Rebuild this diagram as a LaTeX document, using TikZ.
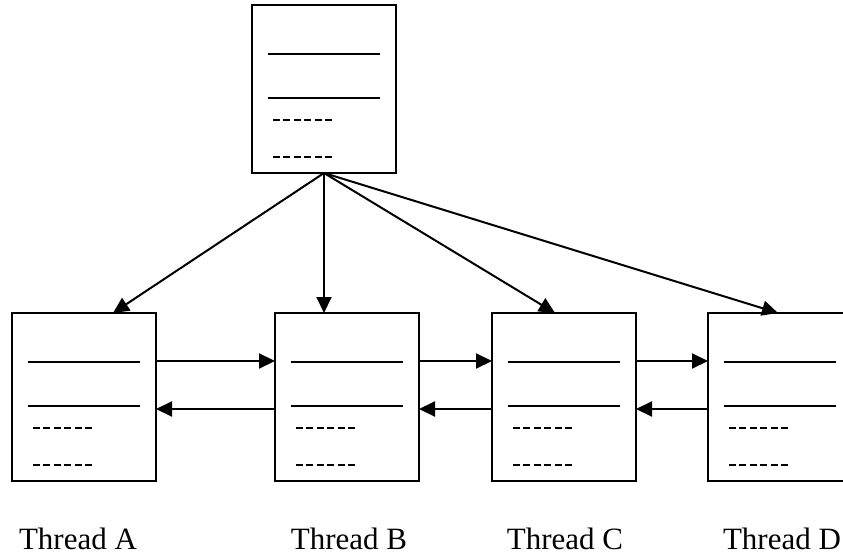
\documentclass[tikz,border=0pt]{standalone}
\usepackage{fontspec}
\setmainfont{Liberation Serif}
\usetikzlibrary{arrows.meta,calc}
\tikzset{
  membox/.style={draw, line width=2pt, rectangle, minimum width=144pt, minimum height=168pt, inner sep=0pt, outer sep=0pt},
  link/.style={line width=2pt, -{Triangle[length=16pt,width=15pt]}},
  thlabel/.style={anchor=base, inner sep=0pt, font=\fontsize{31}{37}\selectfont}
}
% the four text lines inside one box
\def\boxlines(#1){
  \draw[line width=2pt] ([shift={(16,49)}]#1.north west) -- ++(112,0);
  \draw[line width=2pt] ([shift={(16,93)}]#1.north west) -- ++(112,0);
  \draw[line width=2pt, dash pattern=on 7pt off 3.4pt] ([shift={(21,115)}]#1.north west) -- ++(62,0);
  \draw[line width=2pt, dash pattern=on 7pt off 3.4pt] ([shift={(21,152)}]#1.north west) -- ++(62,0);
}
\begin{document}
\begin{tikzpicture}[x=1pt, y=-1pt]
		%%%%% START %%%%%
		\clip (0, 0) rectangle (843, 556);
		
		\node[membox] (main) at (324, 89) {};
		\boxlines(main)
		
		\node[membox] (thA) at (84, 397) {};
		\node[membox] (thB) at (347, 397) {};
		\node[membox] (thC) at (564, 397) {};
		\node[membox] (thD) at (780, 397) {};
		\boxlines(thA)
		\boxlines(thB)
		\boxlines(thC)
		\boxlines(thD)
		
		\draw[link] (main.south) -- ([xshift=29pt]thA.north);
		\draw[link] (main.south) -- (main.south |- thB.north);
		\draw[link] (main.south) -- ([xshift=-9pt]thC.north);
		\draw[link] (main.south) -- ([xshift=-2pt]thD.north);
		
		\draw[link] ([yshift=36pt]thA.east) -- ([yshift=36pt]thB.west);
		\draw[link] ([yshift=-12pt]thB.west) -- ([yshift=-12pt]thA.east);
		\draw[link] ([yshift=36pt]thB.east) -- ([yshift=36pt]thC.west);
		\draw[link] ([yshift=-12pt]thC.west) -- ([yshift=-12pt]thB.east);
		\draw[link] ([yshift=36pt]thC.east) -- ([yshift=36pt]thD.west);
		\draw[link] ([yshift=-12pt]thD.west) -- ([yshift=-12pt]thC.east);
		
		\node[thlabel] (labA) at (78, 549) {Thread A};
		\node[thlabel] (labB) at (349, 549) {Thread B};
		\node[thlabel] (labC) at (565, 549) {Thread C};
		\node[thlabel] (labD) at (782, 549) {Thread D};
		%%%%% END %%%%%
	\end{tikzpicture}
\end{document}
